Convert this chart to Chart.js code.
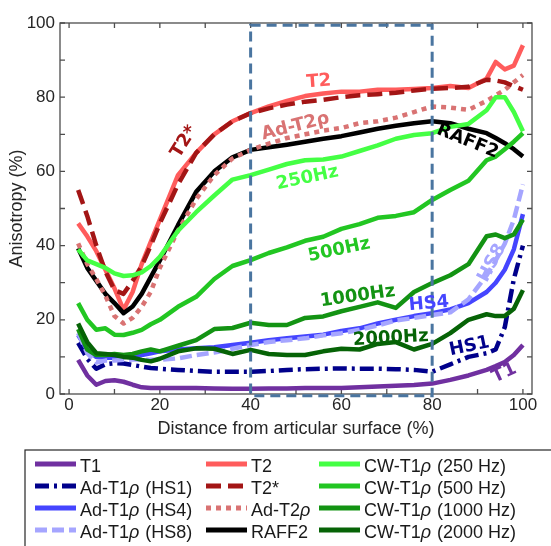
<!DOCTYPE html>
<html>
<head>
<meta charset="utf-8">
<script src="https://cdn.jsdelivr.net/npm/chart.js@4"></script>
<style>
  html, body { margin: 0; padding: 0; background: #fff; }
</style>
</head>
<body>
<canvas id="myChart" width="551" height="546"></canvas>
<script>
// depth through cartilage (%), shared by every curve
const depth = [2, 4, 6, 8, 10, 12, 14, 16, 18, 20, 24, 28, 32, 36, 40, 44, 48, 52, 56, 60, 64, 68, 72, 76, 80, 84, 88, 92, 94, 96, 98, 100];

// anisotropy (%) per method
const t1 = [9.2, 5, 2.5, 3.5, 3.7, 3.3, 2.5, 1.8, 1.6, 1.6, 1.6, 1.6, 1.5, 1.4, 1.4, 1.5, 1.5, 1.6, 1.6, 1.6, 1.8, 2.0, 2.2, 2.4, 2.8, 3.8, 5.0, 6.5, 7.5, 8.6, 10.5, 13.2];
const hs1 = [13.8, 9.5, 6.8, 8.0, 8.3, 8.2, 7.8, 7.4, 7.0, 6.8, 6.5, 6.2, 6.0, 6.0, 6.0, 6.2, 6.5, 6.7, 6.8, 6.9, 6.8, 6.8, 6.7, 6.5, 6.0, 8.0, 10.0, 11.0, 12.0, 18, 31, 40];
const hs4 = [15.9, 12, 10, 9.8, 9.8, 10, 10.2, 10.5, 11, 11.5, 12, 12.3, 12.6, 13.2, 13.8, 14.5, 15, 15.5, 16, 17, 17.7, 19, 20, 21, 21.8, 22.8, 24.5, 27.5, 30, 33.5, 39, 48.5];
const hs8 = [16.4, 11, 8.5, 9, 9, 9.2, 9.3, 9.3, 9.2, 9.2, 9.6, 10.5, 11.2, 12.2, 13.2, 14, 14.5, 15, 15.8, 16.4, 17.3, 18.5, 19.8, 20.5, 21.3, 22, 25.5, 32, 36, 40.5, 47, 56.5];
const t2 = [46, 42.5, 38.5, 33.5, 28.5, 22.7, 27.5, 35, 41, 47, 59, 65, 70, 73.5, 75.7, 77.5, 79, 80.3, 81, 81.5, 81.5, 82, 82, 82.2, 82.5, 83, 82.5, 85, 89.5, 87.5, 88.5, 94];
const t2star = [55, 48, 40, 33, 28, 27, 30.5, 34.5, 40, 46, 56.5, 65, 70, 73.5, 75.7, 77, 78, 78.8, 79.3, 80, 80.5, 80.8, 81.2, 81.8, 82.3, 82.5, 82.8, 84.7, 84.5, 84, 83, 82];
const adT2rho = [40.6, 35, 31, 26.5, 21, 19, 20.5, 23.5, 27.5, 34, 44, 52.5, 59, 63.5, 65.8, 67.5, 69, 70, 71, 71.7, 73, 73.5, 74.5, 76, 77.5, 77.2, 76.6, 79, 80.5, 82, 84, 86];
const raff2 = [39.3, 34, 30.5, 27, 24.5, 21.8, 23.6, 27, 31.5, 36, 45.5, 54.5, 60, 63.8, 65.8, 66.5, 67.2, 68, 68.8, 69.5, 70.5, 71.5, 72.3, 73, 73.5, 73, 71.5, 70.3, 69, 67.6, 66, 64];
const cw250 = [39, 36, 35, 34, 32.5, 31.8, 32, 32.8, 34.5, 37, 44, 49, 53.5, 57.8, 59, 60.5, 62, 63, 63.2, 64, 65.5, 67, 68.8, 69.8, 70.3, 72, 72.8, 76.5, 80, 80, 76, 70.8];
const cw500 = [24.5, 20, 17.3, 17.7, 16, 15.9, 16.5, 17.3, 18.8, 20, 23.5, 26.2, 31, 34.5, 36.1, 38, 39.5, 41.3, 42.4, 44.5, 45.8, 47.5, 48, 49, 52.3, 55, 57.5, 63, 64, 66, 68, 70.3];
const cw1000 = [17.5, 12, 10.5, 10.5, 10.8, 10.5, 10.8, 11.5, 12, 11.5, 13, 14.5, 17.5, 17.8, 19.2, 18.6, 18.6, 20.5, 20.9, 22.3, 23.5, 24.7, 23.2, 27.5, 29.9, 32, 35, 42.5, 43, 42, 43, 47];
const cw2000 = [19, 14, 11, 10.8, 10.5, 10, 9.8, 9.2, 8.8, 9.5, 11.5, 12.3, 12.2, 10.8, 11.9, 10.8, 10.5, 10.5, 11.5, 12.2, 12, 13.5, 14, 12, 13.5, 16.4, 20, 21.5, 21, 21, 23, 28];

const seriesNames = ["T1", "Ad-T1ρ (HS1)", "Ad-T1ρ (HS4)", "Ad-T1ρ (HS8)", "T2", "T2*", "Ad-T2ρ", "RAFF2",
  "CW-T1ρ (250 Hz)", "CW-T1ρ (500 Hz)", "CW-T1ρ (1000 Hz)", "CW-T1ρ (2000 Hz)"];
const seriesValues = [t1, hs1, hs4, hs8, t2, t2star, adT2rho, raff2, cw250, cw500, cw1000, cw2000];

const xTicks = [0, 20, 40, 60, 80, 100];
const yTicks = [0, 20, 40, 60, 80, 100];

// region of interest box (depth %, anisotropy %)
const roiX = [40, 80];
const roiY = [-0.5, 99.4];

// in-plot labels
const noteText = ["T2", "T2*", "Ad-T2ρ", "RAFF2", "250Hz", "500Hz", "1000Hz", "HS4", "HS8", "2000Hz", "HS1", "T1"];
const noteX = [55.0, 25.4, 49.9, 87.8, 52.5, 59.5, 63.6, 79.3, 93.2, 70.9, 88.2, 95.9];
const noteY = [84.2, 68.0, 72.1, 68.1, 58.2, 38.8, 26.3, 24.3, 35.3, 15.0, 12.8, 5.6];

// styles
const colors = ["#7030a0", "#00008b", "#4545ff", "#a5a5ff", "#ff5c5c", "#a31515", "#d97373", "#000000",
  "#44ff44", "#22c622", "#139313", "#066306"];
const dashes = [[], [14, 5, 3, 5], [], [12, 5], [], [15, 7], [5, 5], [], [], [], [], []];
const drawOrder = [12, 11, 10, 9, 8, 5, 6, 7, 4, 3, 2, 1];
const noteColor = [4, 5, 6, 7, 8, 9, 10, 2, 3, 11, 1, 0];
const noteAngle = [-4, -58, -14, 22, -12, -12, -8, -5, -62, -3, -12, -25];

const ctx = document.getElementById("myChart");
const FONT = "'Liberation Sans', Arial, sans-serif";

function drawRho(c, text, x, y, size) {
  // draw text with an italic rho
  let parts = text.split("ρ");
  let cx = x;
  parts.forEach((p, i) => {
    c.font = size + "px " + FONT;
    c.fillText(p, cx, y);
    cx += c.measureText(p).width;
    if (i < parts.length - 1) {
      c.font = "italic " + size + "px " + FONT;
      c.fillText("ρ", cx, y);
      cx += c.measureText("ρ").width + 1;
    }
  });
}

const extras = {
  id: "extras",
  beforeDatasetsDraw(chart) {
    const c = chart.ctx;
    const a = chart.chartArea;
    const xs = chart.scales.x, ys = chart.scales.y;
    c.save();
    c.strokeStyle = "#4d4d4d";
    c.lineWidth = 1.3;
    c.strokeRect(a.left, a.top, a.right - a.left, a.bottom - a.top);
    c.beginPath();
    for (let v = 0; v <= 100; v += 10) {
      let px = xs.getPixelForValue(v);
      c.moveTo(px, a.bottom); c.lineTo(px, a.bottom - 5);
      c.moveTo(px, a.top); c.lineTo(px, a.top + 5);
      let py = ys.getPixelForValue(v);
      c.moveTo(a.left, py); c.lineTo(a.left + 5, py);
      c.moveTo(a.right, py); c.lineTo(a.right - 5, py);
    }
    c.stroke();
    c.restore();
  },
  afterDatasetsDraw(chart) {
    const c = chart.ctx;
    const a = chart.chartArea;
    const xs = chart.scales.x, ys = chart.scales.y;
    c.save();
    // ROI box
    c.strokeStyle = "#4a75a0";
    c.lineWidth = 3;
    c.setLineDash([10, 6]);
    let x0 = xs.getPixelForValue(roiX[0]), x1 = xs.getPixelForValue(roiX[1]);
    let y0 = ys.getPixelForValue(roiY[1]), y1 = ys.getPixelForValue(roiY[0]);
    c.strokeRect(x0, y0, x1 - x0, y1 - y0);
    c.setLineDash([]);

    // labels on curves
    c.textAlign = "center";
    c.textBaseline = "middle";
    c.font = "bold 18px 'DejaVu Sans', Verdana, sans-serif";
    noteText.forEach((t, i) => {
      c.save();
      c.translate(xs.getPixelForValue(noteX[i]), ys.getPixelForValue(noteY[i]));
      c.rotate(noteAngle[i] * Math.PI / 180);
      c.fillStyle = colors[noteColor[i]];
      c.fillText(t, 0, 0);
      c.restore();
    });

    // axis titles
    c.fillStyle = "#262626";
    c.font = "18px " + FONT;
    c.fillText("Distance from articular surface (%)", (a.left + a.right) / 2, 429);
    c.save();
    c.translate(17, (a.top + a.bottom) / 2);
    c.rotate(-Math.PI / 2);
    c.fillText("Anisotropy (%)", 0, 0);
    c.restore();

    // legend
    c.strokeStyle = "#262626";
    c.lineWidth = 1.2;
    c.strokeRect(25, 450, 560, 120);
    const colX = [35, 206, 319];
    chart.data.datasets.forEach((ds, i) => {
      let col = Math.floor(i / 4), row = i % 4;
      let lx = colX[col], ly = 464 + row * 22;
      c.strokeStyle = ds.borderColor;
      c.lineWidth = 5;
      c.setLineDash(ds.borderDash || []);
      c.beginPath();
      c.moveTo(lx, ly);
      c.lineTo(lx + 41, ly);
      c.stroke();
      c.setLineDash([]);
      c.fillStyle = "#1a1a1a";
      c.textAlign = "left";
      c.textBaseline = "middle";
      drawRho(c, ds.label, lx + 45, ly + 3, 18);
    });
    c.restore();
  }
};

let myChart = new Chart(ctx, {
  type: "line",
  data: {
    datasets: seriesValues.map((vals, i) => ({
      label: seriesNames[i],
      data: vals.map((v, j) => ({ x: depth[j], y: v })),
      borderColor: colors[i],
      backgroundColor: colors[i],
      borderWidth: 4.5,
      borderDash: dashes[i],
      borderCapStyle: "butt",
      borderJoinStyle: "round",
      pointRadius: 0,
      tension: 0,
      order: drawOrder[i],
    })),
  },
  options: {
    responsive: false,
    animation: false,
    layout: { padding: { top: 23, right: 19, left: 0, bottom: 0 } },
    plugins: { legend: { display: false }, tooltip: { enabled: false } },
    scales: {
      x: {
        type: "linear",
        min: -2,
        max: 102,
        afterBuildTicks: (s) => { s.ticks = xTicks.map((v) => ({ value: v })); },
        afterFit: (s) => { s.height = 152; },
        grid: { display: false, drawTicks: false },
        border: { display: false },
        ticks: { font: { size: 17, family: FONT }, color: "#262626", padding: 1, maxRotation: 0 },
      },
      y: {
        min: 0,
        max: 100,
        afterBuildTicks: (s) => { s.ticks = yTicks.map((v) => ({ value: v })); },
        afterFit: (s) => { s.width = 60; },
        grid: { display: false, drawTicks: false },
        border: { display: false },
        ticks: { font: { size: 17, family: FONT }, color: "#262626", padding: 5 },
      },
    },
  },
  plugins: [extras],
});
</script>
</body>
</html>
